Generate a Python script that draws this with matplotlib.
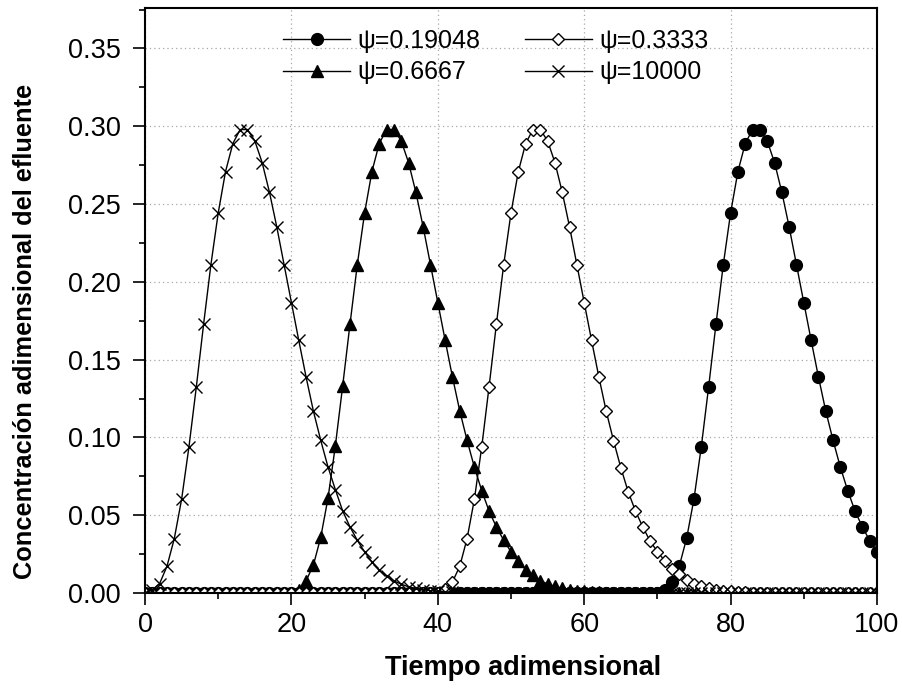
import matplotlib
matplotlib.use("Agg")
import matplotlib.pyplot as plt
from matplotlib.ticker import MultipleLocator, FormatStrFormatter

plt.rcParams['font.family'] = ['Liberation Sans', 'DejaVu Sans']

# ---------------- data ----------------
t = list(range(0, 101))

psi_10000 = ([0.000, 0.002, 0.0061, 0.0172, 0.0350, 0.0603, 0.0939, 0.1321, 0.1727, 0.2110,
              0.2443, 0.2709, 0.2889, 0.2979, 0.2979, 0.2906, 0.2767, 0.2576, 0.2353, 0.2110,
              0.1867, 0.1625, 0.1389, 0.1170, 0.0982, 0.0810, 0.0665, 0.0528, 0.0425, 0.0339,
              0.0264, 0.0200, 0.0147, 0.0108, 0.0078, 0.0057, 0.0040, 0.0030, 0.0020, 0.0015,
              0.0010, 0.0008, 0.0005, 0.0003] + [0.0] * 57)

psi_06667 = ([0.0] * 20 +
             [0.000, 0.002, 0.0078, 0.0179, 0.0357, 0.0610, 0.0945, 0.1330, 0.1727, 0.2110,
              0.2443, 0.2709, 0.2889, 0.2979, 0.2979, 0.2906, 0.2767, 0.2576, 0.2353, 0.2110,
              0.1867, 0.1625, 0.1389, 0.1170, 0.0981, 0.0808, 0.0658, 0.0527, 0.0425, 0.0339,
              0.0265, 0.0204, 0.0150, 0.0114, 0.0080, 0.0058, 0.0042, 0.0030, 0.0022, 0.0016,
              0.0012, 0.0008, 0.0005, 0.0003] + [0.0] * 37)

psi_03333 = ([0.0] * 40 +
             [0.000, 0.0029, 0.0071, 0.0172, 0.0350, 0.0603, 0.0939, 0.1325, 0.1727, 0.2110,
              0.2443, 0.2709, 0.2889, 0.2979, 0.2979, 0.2906, 0.2767, 0.2576, 0.2353, 0.2110,
              0.1867, 0.1625, 0.1389, 0.1170, 0.0980, 0.0806, 0.0652, 0.0527, 0.0425, 0.0334,
              0.0266, 0.0207, 0.0154, 0.0120, 0.0082, 0.0060, 0.0042, 0.0030, 0.0022, 0.0016,
              0.0012, 0.0008, 0.0005, 0.0003] + [0.0] * 17)

psi_019048 = ([0.0] * 70 +
              [0.000, 0.002, 0.0068, 0.0175, 0.0353, 0.0606, 0.0941, 0.1325, 0.1727, 0.2110,
               0.2443, 0.2709, 0.2889, 0.2979, 0.2979, 0.2906, 0.2767, 0.2576, 0.2353, 0.2110,
               0.1867, 0.1625, 0.1389, 0.1170, 0.0981, 0.0808, 0.0658, 0.0527, 0.0425, 0.0337,
               0.0265])

labels = ['ψ=0.19048', 'ψ=0.6667', 'ψ=0.3333', 'ψ=10000']

# ---------------- figure ----------------
fig = plt.figure(figsize=(9.03, 6.91), dpi=100)
ax = fig.add_axes([0.1606, 0.1418, 0.8106, 0.8466])

lw = 1.0
h1, = ax.plot(t, psi_019048, color='black', lw=lw, marker='o', ms=8.5,
              mfc='black', mec='black', label=labels[0])
h2, = ax.plot(t, psi_06667, color='black', lw=lw, marker='^', ms=9,
              mfc='black', mec='black', label=labels[1])
h3, = ax.plot(t, psi_03333, color='black', lw=lw, marker='D', ms=6.5,
              mfc='white', mec='black', mew=1.0, label=labels[2])
h4, = ax.plot(t, psi_10000, color='black', lw=lw, marker='x', ms=8.5,
              mec='black', mew=1.0, label=labels[3])

ax.set_xlim(0, 100)
ax.set_ylim(0, 0.376)
ax.xaxis.set_major_locator(MultipleLocator(20))
ax.xaxis.set_minor_locator(MultipleLocator(10))
ax.yaxis.set_major_locator(MultipleLocator(0.05))
ax.yaxis.set_minor_locator(MultipleLocator(0.025))
ax.yaxis.set_major_formatter(FormatStrFormatter('%.2f'))

ax.grid(True, which='major', color='#a8a8a8', linestyle=(0, (1, 2.5)), linewidth=0.9)
ax.set_axisbelow(True)

for s in ax.spines.values():
    s.set_linewidth(1.5)

ax.tick_params(which='major', direction='out', length=8.5, width=1.2, labelsize=19.5,
               top=False, right=False)
ax.tick_params(axis='x', which='major', pad=5)
ax.tick_params(axis='y', which='major', pad=9)
ax.tick_params(which='minor', direction='out', length=4.5, width=1.2,
               top=False, right=False)

ax.set_xlabel('Tiempo adimensional', fontsize=19.5, fontweight='bold')
ax.xaxis.set_label_coords(0.517, -0.106)
ax.set_ylabel('Concentración adimensional del efluente', fontsize=18.3, fontweight='bold')
ax.yaxis.set_label_coords(-0.1475, 0.447)

ax.legend(handles=[h1, h2, h3, h4], ncol=2, loc='upper left',
          bbox_to_anchor=(0.161, 0.998), frameon=False, fontsize=18,
          handlelength=2.7, handletextpad=0.3, columnspacing=1.75,
          labelspacing=0.29, borderpad=0.3)

fig.savefig('out.png', dpi=100)
